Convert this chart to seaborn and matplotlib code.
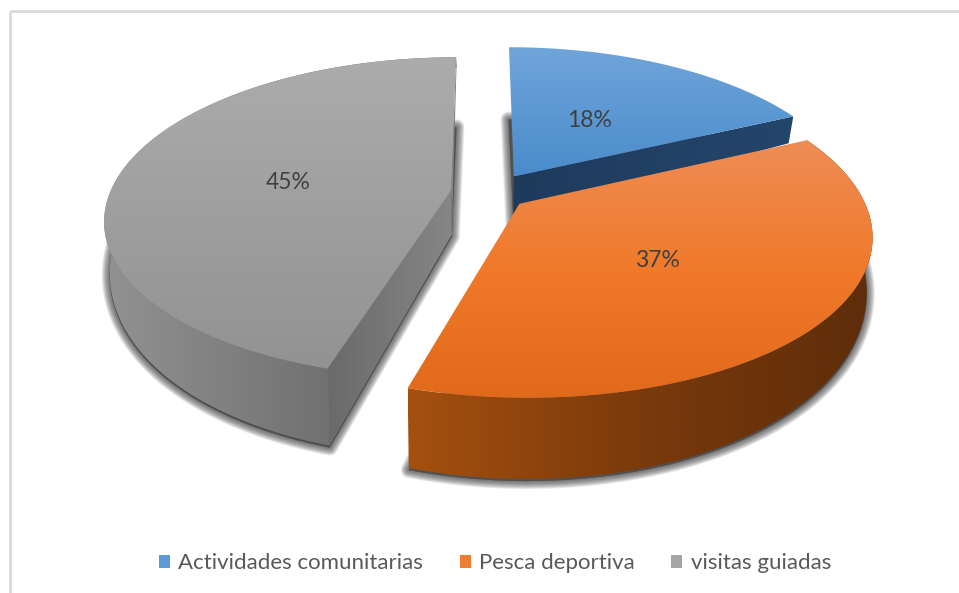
import numpy as np
import matplotlib
matplotlib.use("Agg")
import matplotlib.pyplot as plt
from matplotlib.patches import Patch, Polygon, Rectangle
import seaborn as sns

# Datos de la grafica
categorias = ['Actividades comunitarias', 'Pesca deportiva', 'visitas guiadas']
valores = [18.0, 36.6, 45.4]
colores_leyenda = ['#5B9BD5', '#ED7D31', '#A5A5A5']

sns.set_theme(style="white")
plt.rcParams['font.family'] = ['Lato', 'DejaVu Sans']

# Perspectiva del pastel 3D (en pixeles de la figura)
cx, cy = 482, 184
rx, ry = 338, 153.5
persp = 0.18
persp_y = 0.17
desplaz = [(0.095, 0.05), (0.108, -0.126), (-0.09, -0.04)]

# Degradados: cara superior (vertical) y lateral (horizontal)
sup_grad = [['#70A5DA', '#4A8CCB'], ['#EE8D55', '#F0792A', '#E1691A'], ['#ACACAC', '#929292']]
lat_grad = [['#1E3B5C', '#24466C'], ['#A5500F', '#7A3A0B', '#5E2D0B'], ['#929292', '#5E5E5E']]
rad_grad = [['#1E3B5C', '#24466C'], None, ['#6A6A6A', '#868686']]
pos_etq = [(590, 120.5), (657, 260.5), (288, 182.5)]


def arriba(X, Y):
    return cx + rx * X / (1 + persp * Y), cy - ry * Y / (1 + persp_y * Y)


def abajo(X, Y):
    _, py = arriba(X, Y)
    return cx + rx * X * 0.985 / (1 + persp * Y), py + 43 - 34 * Y


def sombra(X, Y):
    # la sombra solo asoma en la parte delantera del pastel
    px, py = abajo(X, Y)
    return px, py + 2 + 60 * np.maximum(Y, 0)


def pinta(ax, xs, ys, paleta, vertical, z):
    pts = np.column_stack([xs, ys])
    parche = Polygon(pts, closed=True, fc='none', ec='none', zorder=z)
    ax.add_patch(parche)
    cmap = sns.blend_palette(paleta, as_cmap=True)
    g = np.linspace(0, 1, 256)
    g = g.reshape(-1, 1) if vertical else g.reshape(1, -1)
    im = ax.imshow(g, cmap=cmap, vmin=0, vmax=1, aspect='auto', zorder=z,
                   extent=(min(xs), max(xs), max(ys), min(ys)))
    im.set_clip_path(parche)


fig, ax = plt.subplots(figsize=(9.59, 5.93), dpi=100)
ax.set_position([0, 0, 1, 1])

angulos = np.concatenate([[0], np.cumsum(valores)]) * 3.6

# sombras difusas, primero de todo
for i in range(3):
    t = np.radians(np.linspace(angulos[i], angulos[i + 1], 120))
    X = desplaz[i][0] + np.concatenate([[0], np.sin(t)])
    Y = desplaz[i][1] + np.concatenate([[0], np.cos(t)])
    sx, sy = sombra(X, Y)
    for lw in np.arange(1, 17, 1.5):
        ax.add_patch(Polygon(np.column_stack([sx, sy]), closed=True, fc='#404040', ec='#404040',
                             lw=lw * 0.72, alpha=0.1, joinstyle='round', zorder=1))

z = 2
for i in [0, 2, 1]:
    dx, dy = desplaz[i]
    t = np.radians(np.linspace(angulos[i], angulos[i + 1], 120))
    X = dx + np.sin(t)
    Y = dy + np.cos(t)
    ax_, ay_ = arriba(X, Y)
    bx, by = abajo(X, Y)
    ox, oy = arriba(np.array([dx]), np.array([dy]))
    ux, uy = abajo(np.array([dx]), np.array([dy]))

    # caras radiales
    if rad_grad[i] is not None:
        if i == 0:
            # cara que mira al frente, borde final
            xs = [ox[0], ax_[-1], bx[-1], ux[0]]
            ys = [oy[0], ay_[-1], by[-1], uy[0]]
        else:
            xs = [ax_[0], ox[0], ux[0], bx[0]]
            ys = [ay_[0], oy[0], uy[0], by[0]]
        pinta(ax, xs, ys, rad_grad[i], False, z)
        z += 1
    if i == 2:
        xs = [ax_[-1], ox[0], ux[0], bx[-1]]
        ys = [ay_[-1], oy[0], uy[0], by[-1]]
        pinta(ax, xs, ys, ['#8A8A8A', '#777777'], False, z)
        z += 1

    # lateral exterior
    if i != 0:
        pinta(ax, np.concatenate([ax_, bx[::-1]]), np.concatenate([ay_, by[::-1]]),
              lat_grad[i], False, z)
        z += 1

    # cara superior
    pinta(ax, np.concatenate([ox, ax_]), np.concatenate([oy, ay_]), sup_grad[i], True, z)
    z += 1

for v, (px, py) in zip(valores, pos_etq):
    ax.text(px, py, f"{v:.0f}%", ha='center', va='center', fontsize=16.5, color='#404040', zorder=50)

# marco del area del grafico
ax.add_patch(Rectangle((9.5, 10.5), 970, 620, fc='none', ec='#D9D9D9', lw=2, zorder=0))

handles = [Patch(facecolor=c, edgecolor='none', label=n) for c, n in zip(colores_leyenda, categorias)]
ax.legend(handles=handles, loc='center', bbox_to_anchor=(0.516, 0.05), ncol=3, frameon=False,
          fontsize=16, labelcolor='#595959', handlelength=0.5, handleheight=0.55,
          handletextpad=0.37, columnspacing=1.65)

ax.set_xlim(0, 959)
ax.set_ylim(593, 0)
ax.axis('off')
fig.savefig('out.png', dpi=100)
